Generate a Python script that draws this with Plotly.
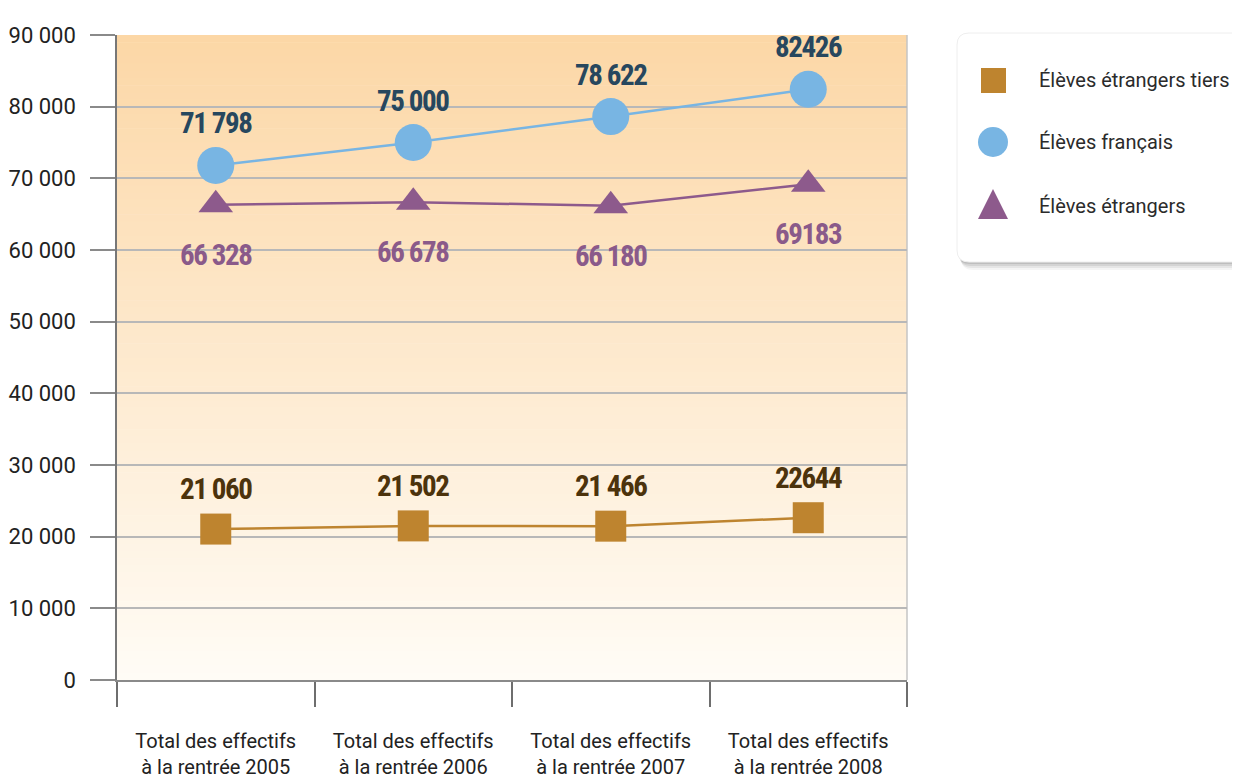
import plotly.graph_objects as go

# ---------------- data ----------------
categories = [
    "Total des effectifs<br>à la rentrée 2005",
    "Total des effectifs<br>à la rentrée 2006",
    "Total des effectifs<br>à la rentrée 2007",
    "Total des effectifs<br>à la rentrée 2008",
]
eleves_francais = [71798, 75000, 78622, 82426]
eleves_etrangers = [66328, 66678, 66180, 69183]
eleves_etrangers_tiers = [21060, 21502, 21466, 22644]

labels_francais = ["71 798", "75 000", "78 622", "82426"]
labels_etrangers = ["66 328", "66 678", "66 180", "69183"]
labels_tiers = ["21 060", "21 502", "21 466", "22644"]

y_tickvals = [0, 10000, 20000, 30000, 40000, 50000, 60000, 70000, 80000, 90000]
y_ticktext = ["0", "10 000", "20 000", "30 000", "40 000", "50 000",
              "60 000", "70 000", "80 000", "90 000"]

legend_names = ["Élèves étrangers tiers", "Élèves français", "Élèves étrangers"]

# ---------------- styling ----------------
OFF = 8                      # page body margin
W, H = 1240 - OFF, 778 - OFF
L, R, T, B = 117 - OFF, 907 - OFF, 35 - OFF, 680 - OFF   # plot area in figure pixels

BLUE = "#78B5E3"
PURPLE = "#8D5A8C"
BROWN = "#BE842F"
BLUE_TXT = "#27475E"
PURPLE_TXT = "#8A5A8A"
BROWN_TXT = "#4C330C"

LABEL_FONT = "Roboto, DejaVu Sans Condensed, sans-serif"
TEXT_FONT = "Roboto, Liberation Sans, sans-serif"


def px(x):
    # reference page pixel -> paper
    return (x - OFF - L) / (R - L)


def py(y):
    return (B - (y - OFF)) / (B - T)


def lab(t):
    return (f'<span style="font-stretch:condensed;font-stretch:75%;'
            f'letter-spacing:-1.4px"><b>{t}</b></span>')


fig = go.Figure()

fig.add_trace(go.Scatter(
    x=categories, y=eleves_etrangers_tiers, mode="lines+markers",
    line=dict(color=BROWN, width=2.5),
    marker=dict(symbol="square", size=31, color=BROWN),
    name=legend_names[0], showlegend=False))
fig.add_trace(go.Scatter(
    x=categories, y=eleves_francais, mode="lines+markers",
    line=dict(color=BLUE, width=2.5),
    marker=dict(symbol="circle", size=37, color=BLUE),
    name=legend_names[1], showlegend=False))
fig.add_trace(go.Scatter(
    x=categories, y=eleves_etrangers, mode="lines+markers",
    line=dict(color=PURPLE, width=2.5),
    marker=dict(symbol="triangle-up", size=30, color=PURPLE),
    name=legend_names[2], showlegend=False))

# data labels
annotations = []
for cat, v, t in zip(categories, eleves_francais, labels_francais):
    annotations.append(dict(x=cat, y=v, text=lab(t), showarrow=False,
                            yshift=42, font=dict(family=LABEL_FONT, size=29, color=BLUE_TXT)))
for cat, v, t in zip(categories, eleves_etrangers, labels_etrangers):
    annotations.append(dict(x=cat, y=v, text=lab(t), showarrow=False,
                            yshift=-50, font=dict(family=LABEL_FONT, size=29, color=PURPLE_TXT)))
for cat, v, t in zip(categories, eleves_etrangers_tiers, labels_tiers):
    annotations.append(dict(x=cat, y=v, text=lab(t), showarrow=False,
                            yshift=40, font=dict(family=LABEL_FONT, size=29, color=BROWN_TXT)))

# legend texts
legend_y = [80, 142, 206]
for name, yy in zip(legend_names, legend_y):
    annotations.append(dict(xref="paper", yref="paper", x=px(1037), y=py(yy),
                            xanchor="left", yanchor="middle", text=name, showarrow=False,
                            font=dict(family=TEXT_FONT, size=20, color="#2b2b2b")))

shapes = []
# gradient background of plot area
top_c = (252, 215, 166)
bot_c = (255, 252, 246)
N = 90
for i in range(N):
    f = (i + 0.5) / N
    c = tuple(round(top_c[k] + (bot_c[k] - top_c[k]) * f) for k in range(3))
    shapes.append(dict(type="rect", xref="paper", yref="paper", x0=0, x1=1,
                       y0=1 - (i + 1) / N - 0.001, y1=1 - i / N,
                       fillcolor=f"rgb{c}", line=dict(width=0), layer="below"))
# right border
shapes.append(dict(type="line", xref="paper", yref="paper", x0=1, x1=1, y0=0, y1=1,
                   line=dict(color="#c4c4c4", width=1.5), layer="below"))


def rrect(x0, y0, x1, y1, r):
    return (f"M {px(x0 + r)},{py(y0)} L {px(x1 - r)},{py(y0)} "
            f"Q {px(x1)},{py(y0)} {px(x1)},{py(y0 + r)} "
            f"L {px(x1)},{py(y1 - r)} Q {px(x1)},{py(y1)} {px(x1 - r)},{py(y1)} "
            f"L {px(x0 + r)},{py(y1)} Q {px(x0)},{py(y1)} {px(x0)},{py(y1 - r)} "
            f"L {px(x0)},{py(y0 + r)} Q {px(x0)},{py(y0)} {px(x0 + r)},{py(y0)} Z")


# legend box shadow + box
for off, op in [(8, 0.04), (6, 0.06), (4, 0.08), (2, 0.10)]:
    shapes.append(dict(type="path", xref="paper", yref="paper",
                       path=rrect(957 + off / 2, 33 + off, 1262, 262 + off, 12),
                       fillcolor=f"rgba(0,0,0,{op})", line=dict(width=0)))
shapes.append(dict(type="path", xref="paper", yref="paper",
                   path=rrect(957, 33, 1262, 262, 12),
                   fillcolor="white", line=dict(color="#eeeeee", width=1)))
# legend symbols
shapes.append(dict(type="rect", xref="paper", yref="paper",
                   x0=px(981), x1=px(1006), y0=py(93), y1=py(68),
                   fillcolor=BROWN, line=dict(width=0)))
shapes.append(dict(type="circle", xref="paper", yref="paper",
                   x0=px(978), x1=px(1008), y0=py(157), y1=py(127),
                   fillcolor=BLUE, line=dict(width=0)))
shapes.append(dict(type="path", xref="paper", yref="paper",
                   path=f"M {px(978)},{py(219)} L {px(1008)},{py(219)} L {px(993)},{py(189)} Z",
                   fillcolor=PURPLE, line=dict(width=0)))

fig.update_layout(
    width=W, height=H,
    margin=dict(l=L, r=W - R, t=T, b=H - B, pad=0, autoexpand=False),
    paper_bgcolor="white", plot_bgcolor="white",
    showlegend=False,
    annotations=annotations,
    shapes=shapes,
    font=dict(family=TEXT_FONT, color="#222222"),
)
fig.update_xaxes(
    type="category", categoryorder="array", categoryarray=categories,
    range=[-0.5, 3.5], tickson="boundaries", ticks="outside", ticklen=25,
    tickcolor="#6e6e6e", tickwidth=1.5, showgrid=False,
    showline=True, linecolor="#8a8a8a", linewidth=1.5,
    tickfont=dict(family=TEXT_FONT, size=20, color="#222222"),
    ticklabelstandoff=42, automargin=False,
)
fig.update_yaxes(
    range=[0, 90000], tickmode="array", tickvals=y_tickvals, ticktext=y_ticktext,
    ticks="outside", ticklen=25, tickcolor="#8a8a8a", tickwidth=1.5,
    showgrid=True, gridcolor="#b8b8b8", gridwidth=1.5, zeroline=False,
    showline=True, linecolor="#777777", linewidth=1.5,
    tickfont=dict(family=TEXT_FONT, size=22, color="#222222"),
    ticklabelstandoff=10, automargin=False,
)

fig.write_html("out.html")
